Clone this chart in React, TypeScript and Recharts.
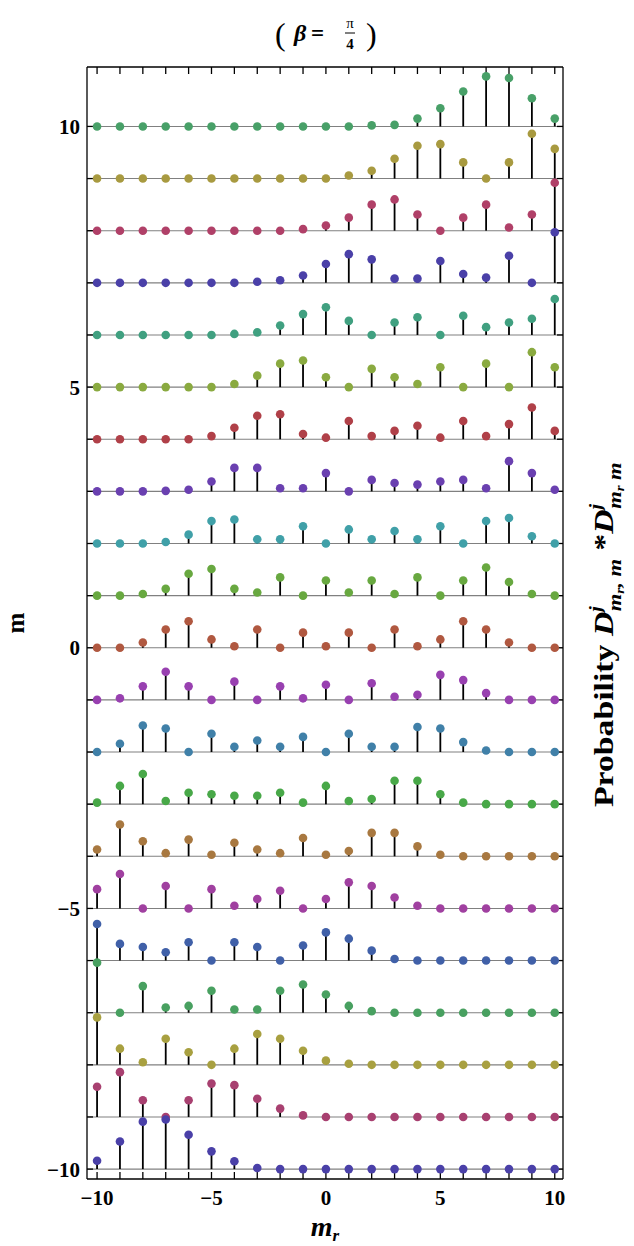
import React from 'react';
import { ScatterChart, Scatter, XAxis, YAxis, ReferenceLine, ErrorBar, Label } from 'recharts';

// m_r categories (x) and m rows (y baselines)
const mrValues = [-10, -9, -8, -7, -6, -5, -4, -3, -2, -1, 0, 1, 2, 3, 4, 5, 6, 7, 8, 9, 10];
const mValues = [10, 9, 8, 7, 6, 5, 4, 3, 2, 1, 0, -1, -2, -3, -4, -5, -6, -7, -8, -9, -10];
const xTickValues = mrValues;
const yTickValues = mValues;

// probability heights (in plot units above each row's baseline), indexed by m_r = -10..10
const p10 = [0, 0, 0, 0, 0, 0, 0, 0, 0, 0, 0, 0, 0.02, 0.03, 0.15, 0.35, 0.67, 0.96, 0.93, 0.54, 0.15];
const p9 = [0, 0, 0, 0, 0, 0, 0, 0, 0, 0, 0, 0.06, 0.15, 0.38, 0.63, 0.66, 0.31, 0, 0.31, 0.86, 0.57];
const p8 = [0, 0, 0, 0, 0, 0, 0, 0, 0, 0.03, 0.1, 0.25, 0.5, 0.6, 0.31, 0, 0.25, 0.5, 0.06, 0.31, 0.92];
const p7 = [0, 0, 0, 0, 0, 0, 0, 0.02, 0.05, 0.14, 0.36, 0.55, 0.45, 0.08, 0.08, 0.42, 0.17, 0.1, 0.52, 0, 0.97];
const p6 = [0, 0, 0, 0, 0, 0, 0.02, 0.05, 0.18, 0.4, 0.53, 0.27, 0, 0.24, 0.34, 0, 0.37, 0.15, 0.24, 0.31, 0.69];
const p5 = [0, 0, 0, 0, 0, 0, 0.06, 0.22, 0.45, 0.51, 0.19, 0, 0.35, 0.19, 0.06, 0.38, 0, 0.45, 0, 0.67, 0.38];
const p4 = [0, 0, 0, 0, 0, 0.06, 0.22, 0.45, 0.48, 0.1, 0.03, 0.35, 0.06, 0.16, 0.26, 0.03, 0.35, 0.06, 0.29, 0.61, 0.16];
const p3 = [0, 0, 0, 0.01, 0.03, 0.19, 0.45, 0.45, 0.06, 0.06, 0.35, 0, 0.22, 0.16, 0.13, 0.19, 0.22, 0.06, 0.58, 0.35, 0.03];
const p2 = [0, 0, 0, 0.03, 0.17, 0.43, 0.46, 0.08, 0.08, 0.33, 0, 0.27, 0.08, 0.24, 0.08, 0.33, 0, 0.43, 0.49, 0.14, 0];
const p1 = [0, 0, 0.03, 0.13, 0.42, 0.51, 0.13, 0.06, 0.35, 0, 0.29, 0.06, 0.29, 0.03, 0.35, 0, 0.29, 0.54, 0.26, 0.03, 0];
const p0 = [0, 0, 0.1, 0.35, 0.51, 0.16, 0.03, 0.35, 0, 0.29, 0.03, 0.29, 0, 0.35, 0.03, 0.16, 0.51, 0.35, 0.1, 0, 0];
const pm1 = [0, 0.03, 0.26, 0.54, 0.26, 0, 0.35, 0, 0.26, 0.03, 0.29, 0, 0.32, 0.06, 0.1, 0.48, 0.38, 0.13, 0, 0, 0];
const pm2 = [0, 0.16, 0.51, 0.45, 0, 0.35, 0.1, 0.22, 0.1, 0.29, 0, 0.35, 0.1, 0.1, 0.48, 0.45, 0.19, 0.03, 0, 0, 0];
const pm3 = [0.03, 0.35, 0.58, 0.06, 0.22, 0.19, 0.16, 0.16, 0.22, 0.03, 0.35, 0.06, 0.1, 0.45, 0.45, 0.19, 0.03, 0, 0, 0, 0];
const pm4 = [0.13, 0.61, 0.29, 0.06, 0.32, 0.03, 0.26, 0.13, 0.06, 0.35, 0.03, 0.1, 0.45, 0.45, 0.19, 0.03, 0, 0, 0, 0, 0];
const pm5 = [0.37, 0.66, 0, 0.43, 0, 0.37, 0.05, 0.18, 0.34, 0, 0.18, 0.5, 0.43, 0.21, 0.05, 0, 0, 0, 0, 0, 0];
const pm6 = [0.7, 0.32, 0.26, 0.16, 0.35, 0, 0.35, 0.26, 0, 0.29, 0.54, 0.42, 0.19, 0.03, 0, 0, 0, 0, 0, 0, 0];
const pm7 = [0.96, 0, 0.51, 0.1, 0.13, 0.42, 0.06, 0.06, 0.42, 0.54, 0.35, 0.13, 0.03, 0, 0, 0, 0, 0, 0, 0, 0];
const pm8 = [0.91, 0.31, 0.05, 0.5, 0.24, 0, 0.31, 0.59, 0.5, 0.27, 0.08, 0.02, 0, 0, 0, 0, 0, 0, 0, 0, 0];
const pm9 = [0.58, 0.86, 0.32, 0, 0.32, 0.64, 0.61, 0.35, 0.16, 0.03, 0, 0, 0, 0, 0, 0, 0, 0, 0, 0, 0];
const pm10 = [0.16, 0.53, 0.91, 0.95, 0.66, 0.34, 0.15, 0.02, 0, 0, 0, 0, 0, 0, 0, 0, 0, 0, 0, 0, 0];

const rowProbabilities = [p10, p9, p8, p7, p6, p5, p4, p3, p2, p1, p0, pm1, pm2, pm3, pm4, pm5, pm6, pm7, pm8, pm9, pm10];

const rowColors = [
  '#48a068', '#a89a40', '#b04068', '#4a40a8', '#40a080', '#8aaa40', '#b04048',
  '#6a40b0', '#40a0a8', '#68a840', '#b05840', '#9840b0', '#4080a8', '#48a848',
  '#a87840', '#a040a0', '#4060a8', '#48a060', '#a8a040', '#a84070', '#4a40a8',
];

const SERIF = "'Liberation Serif', 'Times New Roman', serif";
const X_DOMAIN = [-10.44, 10.36];
const Y_DOMAIN = [-10.19, 11.14];

const rows = mValues.map((m, i) => ({
  m,
  color: rowColors[i],
  data: mrValues.map((mr, k) => ({
    x: mr,
    y: m + rowProbabilities[i][k],
    stem: [rowProbabilities[i][k], 0],
  })),
}));

const fmtTick = (v: number) => (v % 5 === 0 ? (v < 0 ? '\u2212' + Math.abs(v) : String(v)) : '');
const blank = () => '';

const TitleContent = () => (
  <g fontFamily={SERIF} fill="#000">
    <text x={275} y={45} fontSize={32}>(</text>
    <text x={294} y={41} fontSize={24} fontStyle="italic" fontWeight="bold">β</text>
    <text x={311} y={41} fontSize={23} fontWeight="bold">=</text>
    <text x={350} y={28} fontSize={15} textAnchor="middle">π</text>
    <line x1={345} x2={355} y1={33} y2={33} stroke="#000" strokeWidth={1} />
    <text x={350} y={49} fontSize={15} fontWeight="bold" textAnchor="middle">4</text>
    <text x={366} y={45} fontSize={32}>)</text>
  </g>
);

const XLabelContent = () => (
  <text x={325} y={1236} textAnchor="middle" fontFamily={SERIF} fontStyle="italic" fontWeight="bold" fontSize={28} fill="#000">
    m<tspan fontSize={17} dy={5}>r</tspan>
  </text>
);

const YLabelContent = () => (
  <text transform="translate(24,623) rotate(-90)" textAnchor="middle" fontFamily={SERIF} fontWeight="bold" fontSize={25} fill="#000">
    m
  </text>
);

const RightLabelContent = () => (
  <g transform="translate(613,807) rotate(-90) scale(1.25,1)">
    <text x={0} y={0} fontFamily={SERIF} fontWeight="bold" fontSize={27} fill="#000">
      {'Probability '}
      <tspan fontStyle="italic">D</tspan>
      <tspan fontSize={16} fontStyle="italic" dy={-12}>j</tspan>
      <tspan fontSize={18} fontStyle="italic" dx={-4} dy={20}>m</tspan>
      <tspan fontSize={12} fontStyle="italic" dy={3}>r</tspan>
      <tspan fontSize={18} fontStyle="italic" dy={-3}>{', m'}</tspan>
      <tspan dy={-8}>{' *'}</tspan>
      <tspan fontStyle="italic">D</tspan>
      <tspan fontSize={16} fontStyle="italic" dy={-12}>j</tspan>
      <tspan fontSize={18} fontStyle="italic" dx={-4} dy={20}>m</tspan>
      <tspan fontSize={12} fontStyle="italic" dy={3}>r</tspan>
      <tspan fontSize={18} fontStyle="italic" dy={-3}>{' m'}</tspan>
    </text>
  </g>
);

const tickStyle = { fill: '#000', fontSize: 21, fontWeight: 'bold', fontFamily: SERIF };
const lineStyle = { stroke: '#000', strokeWidth: 1.3 };

export default function App() {
  return (
    <div style={{ position: 'absolute', left: 0, top: 0, width: 634, height: 1246 }}>
      <ScatterChart width={634} height={1246} margin={{ top: 0, right: 0, bottom: 0, left: 0 }}>
        <XAxis
          xAxisId={0}
          dataKey="x"
          type="number"
          domain={X_DOMAIN}
          allowDataOverflow
          ticks={xTickValues}
          interval={0}
          tickFormatter={fmtTick}
          tick={tickStyle}
          tickSize={-7}
          tickMargin={18}
          tickLine={lineStyle}
          axisLine={lineStyle}
          height={67}
        >
          <Label content={XLabelContent} />
        </XAxis>
        <XAxis
          xAxisId="top"
          orientation="top"
          dataKey="x"
          type="number"
          domain={X_DOMAIN}
          allowDataOverflow
          ticks={xTickValues}
          interval={0}
          tickFormatter={blank}
          tickSize={-7}
          tickLine={lineStyle}
          axisLine={lineStyle}
          height={67}
        >
          <Label content={TitleContent} />
        </XAxis>
        <YAxis
          yAxisId={0}
          dataKey="y"
          type="number"
          domain={Y_DOMAIN}
          allowDataOverflow
          ticks={yTickValues}
          interval={0}
          tickFormatter={fmtTick}
          tick={tickStyle}
          tickSize={-6}
          tickMargin={13}
          tickLine={lineStyle}
          axisLine={lineStyle}
          width={87}
        >
          <Label content={YLabelContent} />
        </YAxis>
        <YAxis
          yAxisId="right"
          orientation="right"
          dataKey="y"
          type="number"
          domain={Y_DOMAIN}
          allowDataOverflow
          ticks={yTickValues}
          interval={0}
          tickFormatter={blank}
          tickSize={-6}
          tickLine={lineStyle}
          axisLine={lineStyle}
          width={71}
        >
          <Label content={RightLabelContent} />
        </YAxis>
        {mValues.map((m) => (
          <ReferenceLine key={'base' + m} y={m} xAxisId={0} yAxisId={0} stroke="#808080" strokeWidth={1.1} />
        ))}
        {rows.map((row) => (
          <Scatter
            key={'row' + row.m}
            data={row.data}
            xAxisId={0}
            yAxisId={0}
            isAnimationActive={false}
            shape={(props: any) => <circle cx={props.cx} cy={props.cy} r={4.3} fill={row.color} />}
          >
            <ErrorBar dataKey="stem" direction="y" width={0} stroke="#000" strokeWidth={1.8} isAnimationActive={false} />
          </Scatter>
        ))}
      </ScatterChart>
    </div>
  );
}
